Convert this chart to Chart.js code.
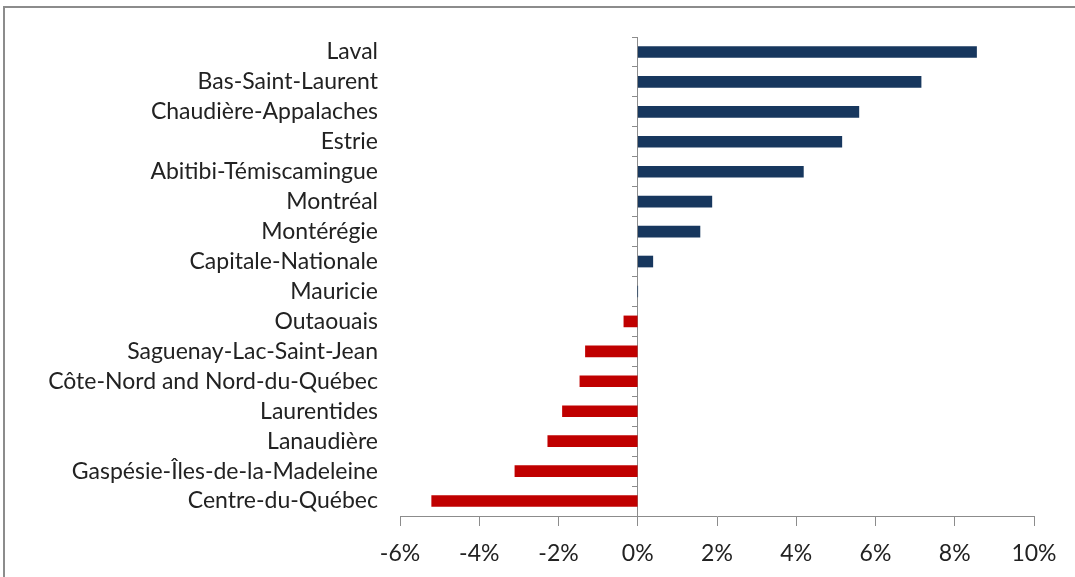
<!DOCTYPE html>
<html>
<head>
<meta charset="utf-8">
<script src="https://cdn.jsdelivr.net/npm/chart.js@4.4.1/dist/chart.umd.min.js"></script>
<style>
  html, body { margin: 0; padding: 0; background: #fff; }
  #wrap { position: relative; width: 1075px; height: 577px; overflow: hidden; }
  #frame { position: absolute; left: 3px; top: 6px; width: 1100px; height: 600px;
           border-left: 2px solid #8c8c8c; border-top: 2px solid #8c8c8c; }
  canvas { position: absolute; left: 0; top: 0; }
</style>
</head>
<body>
<div id="wrap">
  <div id="frame"></div>
  <canvas id="regions" width="1075" height="577"></canvas>
</div>
<script>
const regions = [
  'Laval', 'Bas-Saint-Laurent', 'Chaudière-Appalaches', 'Estrie',
  'Abitibi-Témiscamingue', 'Montréal', 'Montérégie', 'Capitale-Nationale',
  'Mauricie', 'Outaouais', 'Saguenay-Lac-Saint-Jean',
  'Côte-Nord and Nord-du-Québec', 'Laurentides', 'Lanaudière',
  'Gaspésie-Îles-de-la-Madeleine', 'Centre-du-Québec'
];
const growth = [8.55, 7.15, 5.58, 5.15, 4.18, 1.87, 1.57, 0.38,
  0, -0.35, -1.32, -1.46, -1.9, -2.27, -3.1, -5.2];
const xTicks = [-6, -4, -2, 0, 2, 4, 6, 8, 10];

const barColors = growth.map(v => v >= 0 ? '#17375e' : '#c00000');
const font = { family: 'Lato, "Open Sans", sans-serif', size: 23 };

const chart = new Chart(document.getElementById('regions'), {
  type: 'bar',
  data: {
    labels: regions,
    datasets: [{
      data: growth,
      backgroundColor: barColors,
      borderWidth: 0,
      barThickness: 11
    }]
  },
  options: {
    indexAxis: 'y',
    responsive: false,
    animation: false,
    layout: { padding: { left: 0, top: 37, right: 41, bottom: 0 } },
    plugins: { legend: { display: false }, tooltip: { enabled: false } },
    scales: {
      x: {
        min: -6,
        max: 10,
        afterBuildTicks: s => { s.ticks = xTicks.map(v => ({ value: v })); },
        afterFit: s => { s.height = 61; },
        ticks: {
          callback: v => v + '%',
          font: font,
          color: '#222',
          padding: 14,
          maxRotation: 0
        },
        grid: { drawOnChartArea: false, drawTicks: true, tickLength: 10, color: '#8c8c8c' },
        border: { color: '#8c8c8c', width: 1 }
      },
      // axis line and tick marks on the zero line
      y: {
        position: { x: 0 },
        ticks: { display: false },
        grid: { drawOnChartArea: false, offset: true, tickLength: 5, color: '#8c8c8c' },
        border: { color: '#8c8c8c', width: 1 }
      },
      // region names at the low side of the plot
      names: {
        type: 'category',
        axis: 'y',
        position: 'left',
        offset: true,
        afterFit: s => { s.width = 400; },
        ticks: { font: font, color: '#222', padding: 22, autoSkip: false },
        grid: { display: false, drawTicks: false },
        border: { display: false }
      }
    }
  }
});
</script>
</body>
</html>
